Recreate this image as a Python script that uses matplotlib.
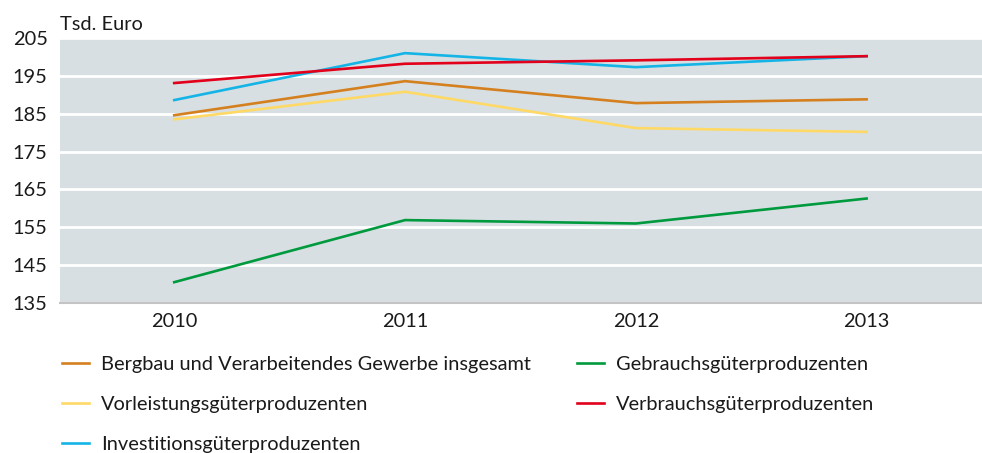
import matplotlib.pyplot as plt

plt.rcParams['font.family'] = ['Lato', 'DejaVu Sans']

years = [2010, 2011, 2012, 2013]
bergbau = [184.6, 193.6, 187.8, 188.8]
vorleistung = [183.5, 190.8, 181.2, 180.2]
investition = [188.6, 201.0, 197.3, 200.2]
gebrauch = [140.5, 156.9, 156.0, 162.6]
verbrauch = [193.1, 198.2, 199.1, 200.2]

labels = ['Bergbau und Verarbeitendes Gewerbe insgesamt',
          'Vorleistungsgüterproduzenten',
          'Investitionsgüterproduzenten',
          'Gebrauchsgüterproduzenten',
          'Verbrauchsgüterproduzenten']
colors = ['#d5801f', '#ffd966', '#14b4e6', '#009a3e', '#e2001a']
series = [bergbau, vorleistung, investition, gebrauch, verbrauch]

fig = plt.figure(figsize=(9.82, 4.53), dpi=100)
ax = fig.add_axes([60/982, 150/453, 922/982, 265/453])
ax.set_facecolor('#d8dfe2')

# draw in order so red ends on top
order = [1, 0, 3, 2, 4]
handles = [None]*5
for i in order:
    h, = ax.plot(years, series[i], color=colors[i], lw=1.9, label=labels[i],
                 solid_joinstyle='miter')
    handles[i] = h

ax.set_xlim(2009.505, 2013.5)
ax.set_ylim(135, 205)
ax.set_yticks(range(135, 206, 10))
ax.set_xticks(years)
ax.grid(axis='y', color='white', lw=2)
ax.set_axisbelow(True)
for s in ['top', 'right', 'left']:
    ax.spines[s].set_visible(False)
ax.spines['bottom'].set_color('#c4c4c4')
ax.spines['bottom'].set_linewidth(1.5)
ax.tick_params(length=0, labelsize=14.4, colors='#1a1a1a')
ax.tick_params(axis='y', pad=9)
ax.tick_params(axis='x', pad=7)

fig.text(60/982, 1 - 24/453, 'Tsd. Euro', fontsize=14.4, va='center', ha='left',
         color='#1a1a1a')

leg = fig.legend(handles=handles, labels=labels, ncol=2, loc='upper left',
                 bbox_to_anchor=(54/982, 1 - 348/453), frameon=False,
                 fontsize=14.4, handlelength=1.35, handletextpad=0.6,
                 columnspacing=2.3, labelspacing=1.15, borderaxespad=0)
for t in leg.get_texts():
    t.set_color('#1a1a1a')

fig.savefig('out.png', dpi=100)
